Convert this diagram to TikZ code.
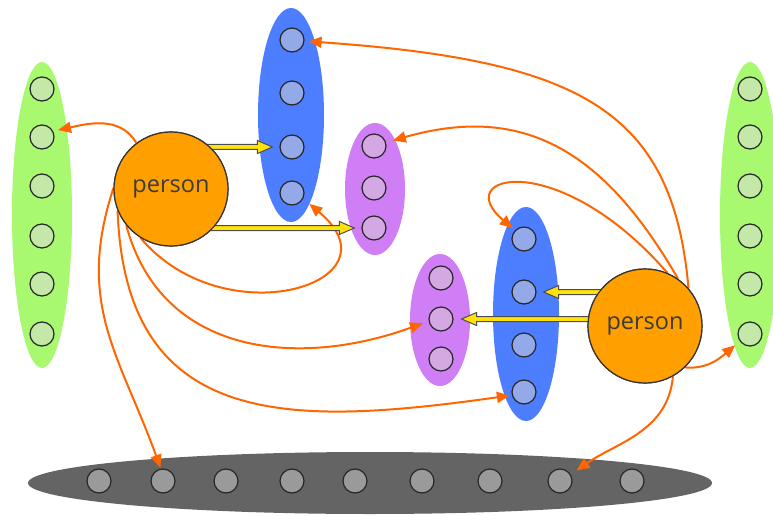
\documentclass[tikz,border=0pt]{standalone}
\usepackage{fontspec}
\setmainfont{Open Sans}
\usetikzlibrary{shapes.geometric,arrows.meta,calc}
\definecolor{grn}{HTML}{A8F870}
\definecolor{grnc}{HTML}{C4E8A8}
\definecolor{blu}{HTML}{4D7EFF}
\definecolor{bluc}{HTML}{94A9E8}
\definecolor{pur}{HTML}{D07EF6}
\definecolor{purc}{HTML}{D4A8E2}
\definecolor{gry}{HTML}{646464}
\definecolor{gryc}{HTML}{9A9A9A}
\definecolor{orng}{HTML}{FF9F00}
\definecolor{arrc}{HTML}{FF6600}
\definecolor{yel}{HTML}{FFE20A}
\definecolor{txtc}{HTML}{3C3C3C}
\newcommand\fatarrow[2]{\draw[yarr] let \p1=(#1), \p2=(#2), \n1={sign(\x2-\x1)} in
  (\x1,\y2+2.5pt) -- (\x2-\n1*15pt,\y2+2.5pt) -- (\x2-\n1*15pt,\y2+6.5pt) -- (\x2,\y2)
  -- (\x2-\n1*15pt,\y2-6.5pt) -- (\x2-\n1*15pt,\y2-2.5pt) -- (\x1,\y2-2.5pt) -- cycle;}
\begin{document}
\begin{tikzpicture}[x=1pt,y=1pt,
  grp/.style={ellipse, inner sep=0pt, draw=none},
  dot/.style={circle, minimum size=24pt, inner sep=0pt, draw=black!85, line width=1.2pt},
  person/.style={circle, minimum size=114pt, inner sep=0pt, fill=orng, draw=black!80, line width=1.2pt, font=\fontsize{23.5}{26}\selectfont, text=txtc},
  oarr/.style={draw=arrc, line width=2pt, -{Triangle[length=13pt,width=11pt]}},
  yarr/.style={fill=yel, draw=black!70, line width=1pt, line join=miter}
]
\useasboundingbox (0,0) rectangle (773,515);
% groups
\node[grp, fill=grn, minimum width=60pt, minimum height=306pt] (G1) at (42,300) {};
\node[grp, fill=grn, minimum width=60pt, minimum height=306pt] (G2) at (750,300) {};
\node[grp, fill=blu, minimum width=66pt, minimum height=214pt] (B1) at (291,400) {};
\node[grp, fill=blu, minimum width=66pt, minimum height=214pt] (B2) at (526,201) {};
\node[grp, fill=pur, minimum width=60pt, minimum height=132pt] (P1) at (375,326) {};
\node[grp, fill=pur, minimum width=60pt, minimum height=132pt] (P2) at (440,195) {};
\node[grp, fill=gry, minimum width=684pt, minimum height=62pt] (GR) at (370,32) {};
% dots
\foreach \y [count=\i] in {426,378,329,279,231,181} {
  \node[dot, fill=grnc] (gl\i) at (42,\y) {};
  \node[dot, fill=grnc] (gr\i) at (750,\y) {};
}
\foreach \y [count=\i] in {475,422,368,322} \node[dot, fill=bluc] (tb\i) at (292,\y) {};
\foreach \y [count=\i] in {276,223,170,123} \node[dot, fill=bluc] (rb\i) at (524,\y) {};
\foreach \y [count=\i] in {369,327,287} \node[dot, fill=purc] (tp\i) at (374,\y) {};
\foreach \y [count=\i] in {237,196,156} \node[dot, fill=purc] (rp\i) at (441,\y) {};
\foreach \x [count=\i] in {99,163,226,292,355,422,490,560,632} \node[dot, fill=gryc] (k\i) at (\x,34) {};
% persons (positions used by connectors)
\coordinate (p1c) at (171,326);
\coordinate (p2c) at (645,189);
\node[person] (p1) at (p1c) {};
\node[person] (p2) at (p2c) {};
% curved connectors
\draw[oarr, shorten >=5pt] (p1.127) to[out=120, in=12] (gl2.28);
\draw[oarr, shorten >=1pt] (p1.179) to[out=252, in=110, looseness=1.1] (k2.100);
\draw[oarr, shorten >=8pt] (p1.238) to[out=-50, in=-40, looseness=2.0] (tb4.-27);
\draw[oarr, shorten >=6pt] (p1.219) to[out=-75, in=200, looseness=1.1] (rp2.190);
\draw[oarr, shorten >=2pt] (p1.202) to[out=-88, in=188, looseness=1.3] (rb4.195);
\draw[oarr, shorten >=4pt] (p2.41) to[out=95, in=-4, out looseness=1.0, in looseness=1.56] (tb1.-5);
\draw[oarr, shorten >=7pt] (p2.55) to[out=120, in=16, looseness=1.15] (tp1.16);
\draw[oarr, shorten >=3pt] (p2.67) to[out=131, in=140, out looseness=2.7, in looseness=1.4] (rb1.135);
\draw[oarr, shorten >=6pt] (p2.-46) to[out=-5, in=220] (gr6.216);
\draw[oarr, shorten >=7pt] (p2.-61) to[out=-95, in=35] (k8.31);
% fat yellow arrows
\fatarrow{p1}{[xshift=-7pt]tb3.west}
\fatarrow{p1}{[xshift=-7pt]tp3.west}
\fatarrow{p2}{[xshift=7pt]rb2.east}
\fatarrow{p2}{[xshift=8pt]rp2.east}
% persons on top
\node[person] at (p1c) {person};
\node[person] at (p2c) {person};
\end{tikzpicture}
\end{document}
